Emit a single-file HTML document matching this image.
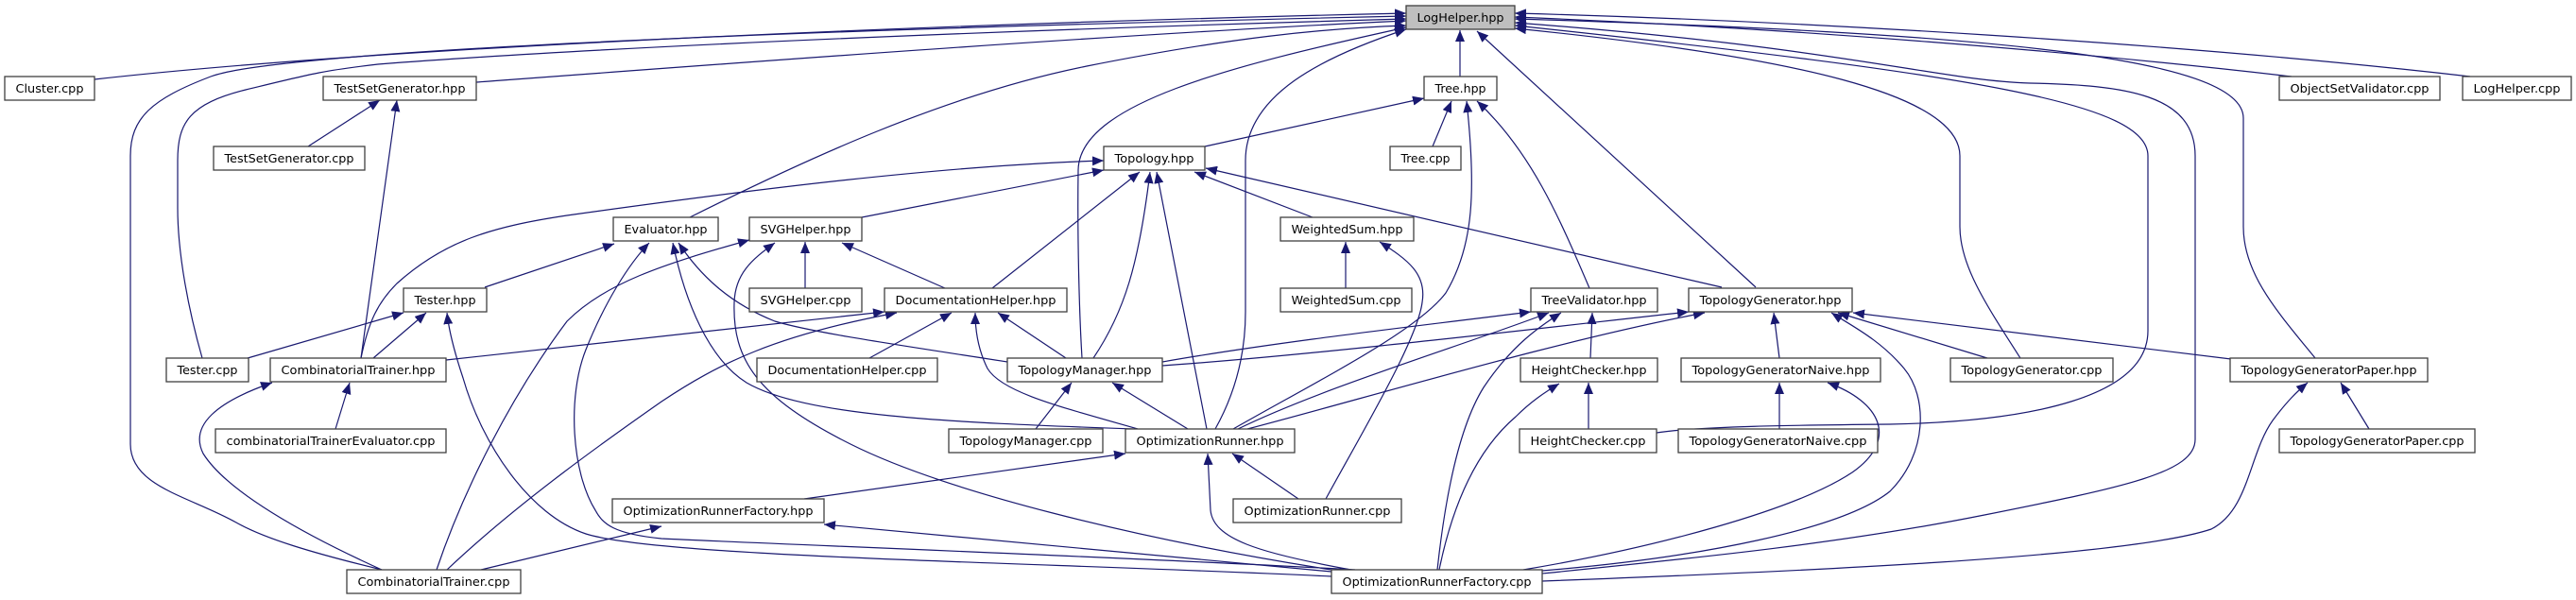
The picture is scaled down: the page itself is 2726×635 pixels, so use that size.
<!DOCTYPE html>
<html><head><meta charset="utf-8"><style>
html,body{margin:0;padding:0;background:#fff;}
svg{display:block;}
text{font-family:"DejaVu Sans","Liberation Sans",sans-serif;font-size:12.3px;fill:#000;}
</style></head><body>
<svg xmlns="http://www.w3.org/2000/svg" width="2726" height="635" viewBox="0 0 2726 635">
<defs>
<marker id="a" markerUnits="userSpaceOnUse" markerWidth="13" markerHeight="10" refX="12" refY="5" orient="auto">
<path d="M0,0 L12,5 L0,10 Z" fill="#191970"/>
</marker>
</defs>
<g fill="none" stroke="#191970" stroke-width="1.2" marker-end="url(#a)">
<path d="M100,84 C400,50 1000,25 1488,14"/>
<path d="M504,87 C800,65 1200,35 1488,22"/>
<path d="M404,603 C330,585 280,570 250,553 C200,525 138,515 138,470 L138,165 C138,125 160,105 223,81 C300,52 900,30 1488,17"/>
<path d="M214,379 C200,330 188,270 188,220 L188,170 C188,130 200,110 260,95 C330,78 340,75 400,68 C700,45 1200,28 1488,20"/>
<path d="M730,230 C850,170 1000,100 1150,70 C1300,40 1400,30 1488,27"/>
<path d="M1145,379 C1142,330 1140,250 1141,180 C1142,110 1300,70 1488,29"/>
<path d="M1286,454 C1305,420 1318,380 1318,330 L1318,170 C1318,100 1400,60 1488,31"/>
<path d="M1545,81 L1545,32"/>
<path d="M1858,304 L1563,33"/>
<path d="M2425,81 C2200,55 1900,30 1603,18"/>
<path d="M2614,81 C2300,45 1900,22 1603,14"/>
<path d="M2450,379 C2410,330 2374,290 2374,240 L2374,125 C2374,60 2100,35 1603,20"/>
<path d="M1632,607 C1800,590 1950,575 2100,545 C2250,515 2323,500 2323,465 L2323,165 C2323,100 2250,90 2148,88 C2050,85 1950,50 1603,24"/>
<path d="M1753,458 C1800,451 1900,450 2000,449 C2150,446 2273,420 2273,350 L2273,165 C2273,110 2100,80 1603,27"/>
<path d="M2138,379 C2100,320 2074,280 2074,240 L2074,165 C2074,100 1900,60 1603,30"/>
<path d="M1275,155 L1507,104"/>
<path d="M1516,155 L1536,107"/>
<path d="M1682,305 C1650,230 1620,160 1563,107"/>
<path d="M1305,454 C1400,400 1500,350 1530,310 C1560,260 1562,200 1552,107"/>
<path d="M912,230 L1168,180"/>
<path d="M382,379 C390,340 400,320 420,300 C470,255 520,240 600,228 C800,200 1000,175 1168,170"/>
<path d="M1050,305 L1206,182"/>
<path d="M1157,379 C1190,330 1205,280 1217,182"/>
<path d="M1277,454 L1224,182"/>
<path d="M1389,230 L1264,182"/>
<path d="M1822,304 L1276,178"/>
<path d="M513,304 L650,258"/>
<path d="M1434,603 C1200,590 800,575 700,570 C650,565 638,555 630,540 C605,500 600,420 620,370 C640,320 665,280 687,257"/>
<path d="M1199,454 C1000,447 850,440 790,405 C750,380 725,320 712,257"/>
<path d="M1066,383 C950,365 860,352 820,340 C770,320 740,290 718,257"/>
<path d="M462,603 C490,520 540,420 600,340 C640,300 700,280 793,254"/>
<path d="M852,305 L852,256"/>
<path d="M1000,305 L891,257"/>
<path d="M1409,603 C1200,570 1000,520 900,470 C800,420 775,380 777,320 C778,290 795,275 820,257"/>
<path d="M920,379 L1007,331"/>
<path d="M1128,379 L1056,331"/>
<path d="M1204,454 C1120,430 1060,415 1045,390 C1035,370 1032,350 1032,331"/>
<path d="M472,381 L936,330"/>
<path d="M473,603 C550,530 650,460 700,425 C760,385 820,355 949,331"/>
<path d="M1096,454 L1134,405"/>
<path d="M1257,454 L1177,405"/>
<path d="M1230,383 C1350,362 1500,345 1620,330"/>
<path d="M1230,387 C1400,375 1650,345 1787,330"/>
<path d="M1310,454 C1400,410 1550,365 1639,331"/>
<path d="M1320,454 C1450,420 1650,360 1804,331"/>
<path d="M1521,603 C1530,520 1545,450 1570,410 C1600,365 1630,345 1652,331"/>
<path d="M1683,379 L1685,331"/>
<path d="M1681,454 L1681,405"/>
<path d="M1523,603 C1540,520 1570,470 1604,441 C1620,425 1635,415 1650,406"/>
<path d="M1883,379 L1877,331"/>
<path d="M1883,454 L1883,405"/>
<path d="M1612,603 C1750,580 1900,540 1960,500 C2010,465 1990,425 1934,405"/>
<path d="M1632,604 C1800,590 1950,560 2000,520 C2040,480 2040,420 2015,390 C1990,360 1960,345 1938,331"/>
<path d="M2361,380 L1961,331"/>
<path d="M2103,379 L1945,331"/>
<path d="M2507,454 L2477,405"/>
<path d="M1632,615 C1900,605 2250,590 2340,560 C2380,540 2380,480 2405,445 C2420,425 2430,415 2442,405"/>
<path d="M1374,528 L1304,480"/>
<path d="M1430,603 C1330,585 1284,570 1281,540 L1278,480"/>
<path d="M851,528 L1191,480"/>
<path d="M1409,605 L872,555"/>
<path d="M509,603 L700,557"/>
<path d="M1403,528 C1440,460 1500,360 1505,320 C1510,290 1490,275 1460,256"/>
<path d="M1424,305 L1424,256"/>
<path d="M1409,610 C1100,595 700,590 620,565 C560,545 510,470 490,400 C480,370 475,350 473,331"/>
<path d="M395,379 L451,331"/>
<path d="M262,379 L427,331"/>
<path d="M382,379 L420,106"/>
<path d="M326,155 L402,106"/>
<path d="M355,454 L370,405"/>
<path d="M404,603 C320,565 240,520 215,480 C200,450 230,425 288,405"/>
</g>
<g stroke="#404040" stroke-width="1.3" fill="#fff">
<rect x="1488" y="6" width="115" height="25" fill="#bfbfbf"/>
<rect x="5" y="81" width="95" height="25"/>
<rect x="342" y="81" width="162" height="25"/>
<rect x="1507" y="81" width="77" height="25"/>
<rect x="2412" y="81" width="170" height="25"/>
<rect x="2606" y="81" width="115" height="25"/>
<rect x="226" y="155" width="160" height="25"/>
<rect x="1168" y="155" width="107" height="25"/>
<rect x="1471" y="155" width="75" height="25"/>
<rect x="649" y="230" width="111" height="25"/>
<rect x="793" y="230" width="119" height="25"/>
<rect x="1355" y="230" width="141" height="25"/>
<rect x="427" y="305" width="88" height="25"/>
<rect x="793" y="305" width="119" height="25"/>
<rect x="936" y="305" width="193" height="25"/>
<rect x="1355" y="305" width="139" height="25"/>
<rect x="1620" y="305" width="134" height="25"/>
<rect x="1787" y="305" width="173" height="25"/>
<rect x="176" y="379" width="87" height="25"/>
<rect x="286" y="379" width="186" height="25"/>
<rect x="801" y="379" width="191" height="25"/>
<rect x="1066" y="379" width="164" height="25"/>
<rect x="1609" y="379" width="145" height="25"/>
<rect x="1779" y="379" width="211" height="25"/>
<rect x="2064" y="379" width="172" height="25"/>
<rect x="2360" y="379" width="209" height="25"/>
<rect x="228" y="454" width="244" height="25"/>
<rect x="1004" y="454" width="163" height="25"/>
<rect x="1191" y="454" width="179" height="25"/>
<rect x="1608" y="454" width="145" height="25"/>
<rect x="1776" y="454" width="211" height="25"/>
<rect x="2412" y="454" width="207" height="25"/>
<rect x="648" y="528" width="224" height="25"/>
<rect x="1305" y="528" width="178" height="25"/>
<rect x="367" y="603" width="184" height="25"/>
<rect x="1409" y="603" width="223" height="25"/>
</g>
<g text-anchor="middle">
<text x="1545.5" y="23" textLength="92" lengthAdjust="spacingAndGlyphs">LogHelper.hpp</text>
<text x="52.5" y="98" textLength="72" lengthAdjust="spacingAndGlyphs">Cluster.cpp</text>
<text x="423" y="98" textLength="139" lengthAdjust="spacingAndGlyphs">TestSetGenerator.hpp</text>
<text x="1545.5" y="98" textLength="54" lengthAdjust="spacingAndGlyphs">Tree.hpp</text>
<text x="2497" y="98" textLength="147" lengthAdjust="spacingAndGlyphs">ObjectSetValidator.cpp</text>
<text x="2663.5" y="98" textLength="92" lengthAdjust="spacingAndGlyphs">LogHelper.cpp</text>
<text x="306" y="172" textLength="137" lengthAdjust="spacingAndGlyphs">TestSetGenerator.cpp</text>
<text x="1221.5" y="172" textLength="84" lengthAdjust="spacingAndGlyphs">Topology.hpp</text>
<text x="1508.5" y="172" textLength="52" lengthAdjust="spacingAndGlyphs">Tree.cpp</text>
<text x="704.5" y="247" textLength="88" lengthAdjust="spacingAndGlyphs">Evaluator.hpp</text>
<text x="852.5" y="247" textLength="96" lengthAdjust="spacingAndGlyphs">SVGHelper.hpp</text>
<text x="1425.5" y="247" textLength="118" lengthAdjust="spacingAndGlyphs">WeightedSum.hpp</text>
<text x="471" y="322" textLength="65" lengthAdjust="spacingAndGlyphs">Tester.hpp</text>
<text x="852.5" y="322" textLength="96" lengthAdjust="spacingAndGlyphs">SVGHelper.cpp</text>
<text x="1032.5" y="322" textLength="170" lengthAdjust="spacingAndGlyphs">DocumentationHelper.hpp</text>
<text x="1424.5" y="322" textLength="116" lengthAdjust="spacingAndGlyphs">WeightedSum.cpp</text>
<text x="1687" y="322" textLength="111" lengthAdjust="spacingAndGlyphs">TreeValidator.hpp</text>
<text x="1873.5" y="322" textLength="150" lengthAdjust="spacingAndGlyphs">TopologyGenerator.hpp</text>
<text x="219.5" y="396" textLength="64" lengthAdjust="spacingAndGlyphs">Tester.cpp</text>
<text x="379" y="396" textLength="163" lengthAdjust="spacingAndGlyphs">CombinatorialTrainer.hpp</text>
<text x="896.5" y="396" textLength="168" lengthAdjust="spacingAndGlyphs">DocumentationHelper.cpp</text>
<text x="1148" y="396" textLength="141" lengthAdjust="spacingAndGlyphs">TopologyManager.hpp</text>
<text x="1681.5" y="396" textLength="122" lengthAdjust="spacingAndGlyphs">HeightChecker.hpp</text>
<text x="1884.5" y="396" textLength="188" lengthAdjust="spacingAndGlyphs">TopologyGeneratorNaive.hpp</text>
<text x="2150" y="396" textLength="149" lengthAdjust="spacingAndGlyphs">TopologyGenerator.cpp</text>
<text x="2464.5" y="396" textLength="186" lengthAdjust="spacingAndGlyphs">TopologyGeneratorPaper.hpp</text>
<text x="350" y="471" textLength="221" lengthAdjust="spacingAndGlyphs">combinatorialTrainerEvaluator.cpp</text>
<text x="1085.5" y="471" textLength="140" lengthAdjust="spacingAndGlyphs">TopologyManager.cpp</text>
<text x="1280.5" y="471" textLength="156" lengthAdjust="spacingAndGlyphs">OptimizationRunner.hpp</text>
<text x="1680.5" y="471" textLength="122" lengthAdjust="spacingAndGlyphs">HeightChecker.cpp</text>
<text x="1881.5" y="471" textLength="188" lengthAdjust="spacingAndGlyphs">TopologyGeneratorNaive.cpp</text>
<text x="2515.5" y="471" textLength="184" lengthAdjust="spacingAndGlyphs">TopologyGeneratorPaper.cpp</text>
<text x="760" y="545" textLength="201" lengthAdjust="spacingAndGlyphs">OptimizationRunnerFactory.hpp</text>
<text x="1394" y="545" textLength="155" lengthAdjust="spacingAndGlyphs">OptimizationRunner.cpp</text>
<text x="459" y="620" textLength="161" lengthAdjust="spacingAndGlyphs">CombinatorialTrainer.cpp</text>
<text x="1520.5" y="620" textLength="200" lengthAdjust="spacingAndGlyphs">OptimizationRunnerFactory.cpp</text>
</g>
</svg>
</body></html>
